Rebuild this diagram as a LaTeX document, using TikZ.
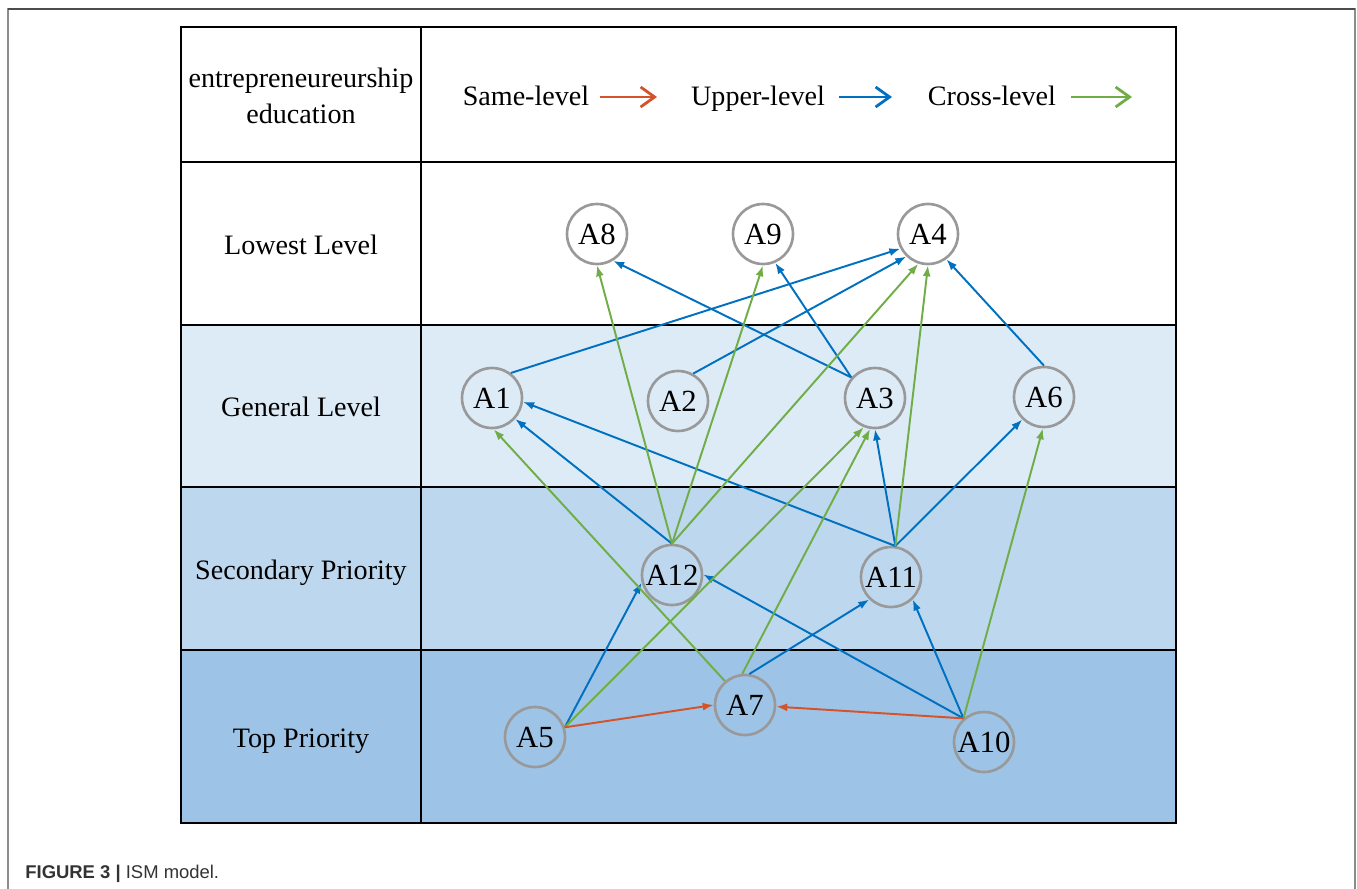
\documentclass[tikz,border=0pt]{standalone}
\usepackage{fontspec}
\setmainfont{Liberation Serif}
\newfontfamily\capfont{Liberation Sans}
\usetikzlibrary{arrows.meta}
\definecolor{Up}{HTML}{0070C0}
\definecolor{Cross}{HTML}{70AD47}
\definecolor{Same}{HTML}{D4532A}
\definecolor{LvB}{HTML}{DDEBF7}
\definecolor{LvC}{HTML}{BDD7EE}
\definecolor{LvD}{HTML}{9DC3E6}
\definecolor{Ring}{HTML}{999999}

\begin{document}
\begin{tikzpicture}[x=0.02cm,y=-0.02cm,
    f/.style={circle,draw=Ring,line width=1.5pt,minimum size=1.2cm,inner sep=0pt,
      font=\fontsize{17.5}{20}\selectfont},
    lab/.style={font=\fontsize{16}{20}\selectfont,align=center,anchor=base},
    e/.style={line width=1.1pt,-{Latex[length=2.2mm,width=1.6mm]}},
    up/.style={e,draw=Up},
    cr/.style={e,draw=Cross},
    sm/.style={e,draw=Same},
    key/.style={line width=1.6pt,-{Straight Barb[length=2.8mm,width=4mm]}}]
  \useasboundingbox (0,0) rectangle (1357,889);
  % page frame
  \draw[black!45,line width=0.9pt] (8,889) -- (8,9) -- (1355,9) -- (1355,889);
  \draw[black!70,line width=1.1pt] (8,9) -- (1355,9);
  % level rows
  \fill[LvB] (181,325) rectangle (1176,487);
  \fill[LvC] (181,487) rectangle (1176,650);
  \fill[LvD] (181,650) rectangle (1176,823);
  \draw[line width=0.8pt] (181,27) rectangle (1176,823);
  \draw[line width=0.8pt] (421,27) -- (421,823);
  \foreach \y in {162,325,487,650}
    \draw[line width=0.8pt] (181,\y) -- (1176,\y);
  \node[lab] (hd) at (301,123) {entrepreneureurship\\education};
  \node[lab] (l1) at (301,254) {Lowest Level};
  \node[lab] (l2) at (301,416) {General Level};
  \node[lab] (l3) at (301,579) {Secondary Priority};
  \node[lab] (l4) at (301,747) {Top Priority};
  % legend
  \node[lab] (ks) at (526,105) {Same-level};
  \node[lab] (ku) at (758,105) {Upper-level};
  \node[lab] (kc) at (992,105) {Cross-level};
  \coordinate (ks1) at (600,97); \coordinate (ks2) at (657,97);
  \coordinate (ku1) at (839,97); \coordinate (ku2) at (892,97);
  \coordinate (kc1) at (1071,97); \coordinate (kc2) at (1132,97);
  \draw[key,draw=Same] (ks1) -- (ks2);
  \draw[key,draw=Up] (ku1) -- (ku2);
  \draw[key,draw=Cross] (kc1) -- (kc2);
  % factors
  \node[f] (a8) at (597,234) {A8};
  \node[f] (a9) at (763,234) {A9};
  \node[f] (a4) at (928,234) {A4};
  \node[f] (a1) at (492,398) {A1};
  \node[f] (a2) at (678,401) {A2};
  \node[f] (a3) at (875,398) {A3};
  \node[f] (a6) at (1044,397) {A6};
  \node[f] (a12) at (672,575) {A12};
  \node[f] (a11) at (891,577) {A11};
  \node[f] (a5) at (535,737) {A5};
  \node[f] (a7) at (745,705) {A7};
  \node[f] (a10) at (984,742) {A10};
  % upper-level
  \draw[up] (a1.53) -- (a4.208);
  \draw[up] (a2.61) -- (a4.226);
  \draw[up] (a3.139) -- (a8.301);
  \draw[up] (a3.139) -- (a9.293);
  \draw[up] (a6.90) -- (a4.306);
  \draw[up] (a12.90) -- (a1.318);
  \draw[up] (a11.82) -- (a1.353);
  \draw[up] (a11.82) -- (a3.270);
  \draw[up] (a11.82) -- (a6.226);
  \draw[up] (a5.18) -- (a12.194);
  \draw[up] (a7.82) -- (a11.226);
  \draw[up] (a10.131) -- (a12.1);
  \draw[up] (a10.131) -- (a11.314);
  % cross-level
  \draw[cr] (a12.90) -- (a8.270);
  \draw[cr] (a12.90) -- (a9.270);
  \draw[cr] (a12.90) -- (a4.252);
  \draw[cr] (a11.82) -- (a4.270);
  \draw[cr] (a7.130) -- (a1.273);
  \draw[cr] (a7.95) -- (a3.261);
  \draw[cr] (a5.18) -- (a3.249);
  \draw[cr] (a10.131) -- (a6.268);
  % same-level
  \draw[sm] (a5.18) -- (a7.180);
  \draw[sm] (a10.131) -- (a7.357);
  % caption
  \node[anchor=base west,inner sep=0pt,text=black!80,
    font=\capfont\fontsize{10.5}{12}\selectfont] (cap) at (25,878)
    {\textbf{FIGURE 3 |} ISM model.};
\end{tikzpicture}
\end{document}
